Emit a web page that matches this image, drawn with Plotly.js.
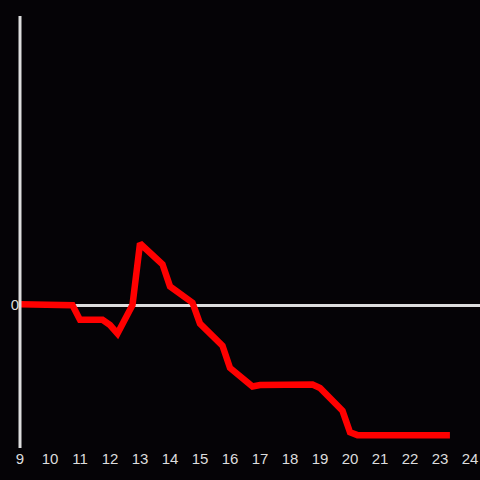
<!DOCTYPE html>
<html>
<head>
<meta charset="utf-8">
<script src="https://cdn.plot.ly/plotly-3.0.1.min.js"></script>
<style>html,body{margin:0;padding:0;background:#050306;}#chart{width:480px;height:480px;}</style>
</head>
<body>
<div id="chart"></div>
<script>
const hours = [9.0, 10.75, 11.0, 11.75, 12.0, 12.25, 12.75, 13.0, 13.75, 14.0, 14.75, 15.0, 15.75, 16.0, 16.75, 17.0, 18.75, 19.0, 19.75, 20.0, 20.25, 23.33];
const values = [0.005, -0.002, -0.104, -0.104, -0.14, -0.2, 0.0, 0.43, 0.285, 0.13, 0.016, -0.13, -0.285, -0.44, -0.57, -0.56, -0.556, -0.58, -0.74, -0.89, -0.91, -0.91];
const xTicks = [9, 10, 11, 12, 13, 14, 15, 16, 17, 18, 19, 20, 21, 22, 23, 24];
const yTicks = [0];

Plotly.newPlot('chart', [{
  x: hours,
  y: values,
  type: 'scatter',
  mode: 'lines',
  line: {color: '#ff0000', width: 6.5},
  hoverinfo: 'none'
}], {
  width: 480, height: 480,
  margin: {l: 20, r: 0, t: 16, b: 32, pad: 0},
  paper_bgcolor: '#050306',
  plot_bgcolor: '#050306',
  showlegend: false,
  font: {family: 'Liberation Sans, Arial, sans-serif', size: 15, color: '#dddddd'},
  xaxis: {
    range: [9, 24.333],
    tickvals: xTicks,
    ticktext: xTicks.map(String),
    showgrid: false, zeroline: false, showline: false,
    ticks: '', tickfont: {size: 15, color: '#dddddd'}
  },
  yaxis: {
    range: [-1, 2.021],
    tickvals: yTicks,
    ticktext: ['0'],
    showgrid: false,
    zeroline: true, zerolinecolor: '#dddddd', zerolinewidth: 3,
    showline: false,
    ticks: '', tickfont: {size: 15, color: '#dddddd'}
  },
  shapes: [{
    type: 'line', xref: 'paper', yref: 'paper',
    x0: 0, x1: 0, y0: 0, y1: 1,
    line: {color: '#dddddd', width: 3}
  }]
}, {staticPlot: true, displayModeBar: false});
</script>
</body>
</html>
